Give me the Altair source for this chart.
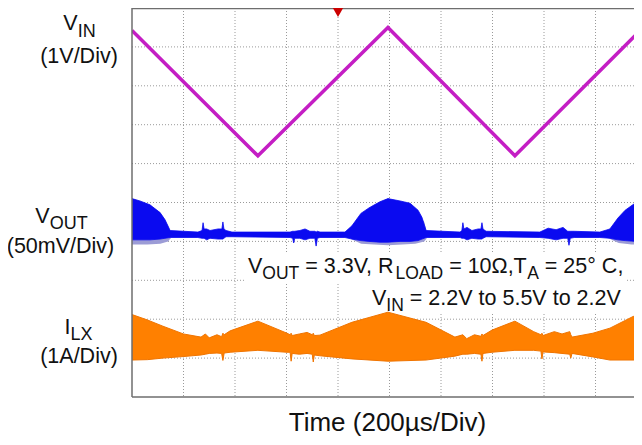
import altair as alt
import pandas as pd

# ---------------- data (time in µs, 200 µs/div) ----------------
vin_t = [0, 489, 994, 1487, 1980]
vin_v = [5.42, 2.2, 5.5, 2.2, 5.46]          # volts

vout_t = [0, 31, 70, 109, 128, 148, 256, 272, 276, 280, 290, 303, 334, 349, 353, 357, 365, 388,
          614, 624, 628, 632, 652, 672, 691, 710, 715, 720, 730,
          827, 854, 889, 920, 963, 994, 1041, 1080, 1111, 1126, 1142,
          1274, 1281, 1285, 1289, 1301, 1320, 1344, 1355, 1359, 1363, 1375,
          1584, 1616, 1647, 1674, 1692, 1697, 1702, 1717,
          1817, 1856, 1887, 1915, 1953, 1980]
vout_hi = [55, 52, 47, 37, 28, 14, 12, 14, 24, 16, 16, 14, 16, 16, 25, 16, 14, 12,
           12, 13, 13, 13, 14, 16, 13, 13, 12, 13, 12,
           12, 20, 36, 43, 51, 55, 52, 49, 40, 31, 14,
           12, 14, 24, 16, 18, 14, 16, 16, 24, 16, 13,
           12, 17, 15, 18, 13, 13, 13, 13,
           12, 16, 30, 40, 49, 54]
vout_lo = [2, 2, 2, 3, 4, 5, 5, 4, 4, 4, 2, 4, 3, 3, 3, 4, 6, 6,
           5, 4, -2, 4, 4, 2, 4, 4, -6, 4, 5,
           5, 3, 1, 0, -1, -1, 0, 0, 1, 3, 5,
           5, 4, 4, 4, 2, 4, 3, 3, 3, 4, 6,
           5, 4, 2, 4, 4, -5, 4, 5,
           5, 4, 2, 1, 0, 0]                 # mV

# lighter switching-ripple streaks under the VOUT bursts (mV)
streak_burst = ["b1"] * 5 + ["b2"] * 8 + ["b3"] * 4
streak_t = [0, 60, 110, 140, 150,
            850, 890, 940, 994, 1050, 1100, 1135, 1145,
            1850, 1890, 1940, 1980]
streak_hi = [55, 48, 37, 20, 12,
             18, 36, 47, 55, 51, 42, 25, 12,
             14, 30, 46, 54]
streak_lo = [-4, -4, -3, 0, 4,
             3, -3, -4, -5, -4, -3, 0, 4,
             4, -2, -4, -4]

ilx_t = [0, 60, 120, 200, 268, 285, 300, 330, 348, 353, 358, 381, 489,
         602, 614, 618, 622, 650, 680, 700, 704, 708, 730, 854, 994, 1142,
         1254, 1285, 1300, 1330, 1355, 1359, 1363, 1398, 1487,
         1560, 1588, 1592, 1596, 1640, 1670, 1700, 1704, 1709, 1790, 1856, 1946, 1980]
ilx_hi = [1.12, 0.98, 0.82, 0.62, 0.54, 0.62, 0.52, 0.60, 0.55, 0.64, 0.60, 0.70, 0.95,
          0.64, 0.60, 0.64, 0.58, 0.62, 0.66, 0.60, 0.64, 0.58, 0.59, 0.92, 1.18, 0.92,
          0.54, 0.60, 0.50, 0.60, 0.56, 0.62, 0.58, 0.72, 0.95,
          0.68, 0.60, 0.64, 0.58, 0.68, 0.62, 0.68, 0.60, 0.54, 0.64, 0.77, 1.07, 1.12]
ilx_lo = [-0.05, -0.04, 0.0, 0.04, 0.08, 0.10, 0.12, 0.13, 0.12, -0.06, 0.13, 0.15, 0.20,
          0.15, 0.15, -0.08, 0.12, 0.10, 0.12, 0.10, -0.10, 0.08, 0.06, -0.02, -0.08, -0.05,
          0.05, 0.10, 0.10, 0.12, 0.10, -0.08, 0.12, 0.15, 0.20,
          0.20, 0.18, -0.02, 0.16, 0.14, 0.12, 0.10, 0.00, 0.12, 0.03, -0.05, -0.05, -0.05]   # A

grid_t = [200, 400, 600, 800, 1000, 1200, 1400, 1600, 1800]
grid_div = [1, 2, 3, 4, 5, 6, 7, 8, 9]
trigger_t = [800]

# channel reference levels (divisions from bottom) and scales
VIN_REF, VIN_PER_DIV = 4.0, 1.0
VOUT_REF, VOUT_PER_DIV = 4.0, 50.0
ILX_REF, ILX_PER_DIV = 1.0, 1.0

W, H = 502, 389
T_MAX = W / 51.5 * 200
FONT = "Liberation Sans"
C_VIN, C_VOUT, C_ILX = "#c41ec4", "#0a0af0", "#ff8000"
BORDER = "#6e6e6e"
GRID = "#9a9a9a"

xs = alt.Scale(domain=[0, T_MAX], nice=False, zero=False)
ys = alt.Scale(domain=[0, 10], nice=False, zero=False)
X = alt.X("t:Q", scale=xs, axis=None)

one = pd.DataFrame({"k": [0]})

# text width helper (Arial / Liberation Sans metrics)
AW = {' ': 278, '=': 584, '.': 278, ',': 278, 'V': 667, 'R': 722, 'L': 556, 'O': 778,
      'A': 667, 'D': 722, 'T': 611, 'U': 722, 'I': 278, 'N': 722, 'C': 722, 'Ω': 768, '°': 400,
      't': 278, 'o': 556, 'X': 667}
for d in "0123456789":
    AW[d] = 556


def tw(s, size):
    return sum(AW.get(c, 556) for c in s) * size / 1000.0


def txt(s, x, y, size, align="left", color="#111111"):
    return alt.Chart(one).mark_text(text=s, font=FONT, fontSize=size, align=align,
                                    baseline="alphabetic", color=color).encode(
        x=alt.value(x), y=alt.value(y))


def rich(pieces, x0, y0, big, small, sub_dy):
    out = []
    x = x0
    for s, is_sub in pieces:
        size = small if is_sub else big
        lead = len(s) - len(s.lstrip(" "))
        x += tw(" " * lead, size)
        s = s.lstrip(" ")
        out.append(txt(s, x, y0 + (sub_dy if is_sub else 0), size))
        x += tw(s, size)
    return out


# ---------------- layers ----------------
vgrid = alt.Chart(pd.DataFrame({"t": grid_t})).mark_rule(
    color=GRID, strokeWidth=1, strokeDash=[1, 2]).encode(x=X)
hgrid = alt.Chart(pd.DataFrame({"d": grid_div})).mark_rule(
    color=GRID, strokeWidth=1, strokeDash=[1, 2]).encode(
    y=alt.Y("d:Q", scale=ys, axis=None))

vin_df = pd.DataFrame({"t": vin_t, "v": vin_v})
vout_df = pd.DataFrame({"t": vout_t, "hi": vout_hi, "lo": vout_lo})
streak_df = pd.DataFrame({"b": streak_burst, "t": streak_t, "hi": streak_hi, "lo": streak_lo})
ilx_df = pd.DataFrame({"t": ilx_t, "hi": ilx_hi, "lo": ilx_lo})

vin_layer = alt.Chart(vin_df).transform_calculate(
    d=f"{VIN_REF} + datum.v / {VIN_PER_DIV}"
).mark_line(color=C_VIN, strokeWidth=3.5, clip=True).encode(
    x=X, y=alt.Y("d:Q", scale=ys, axis=None))

streak_layer = alt.Chart(streak_df).transform_calculate(
    d1=f"{VOUT_REF} + datum.hi / {VOUT_PER_DIV}",
    d2=f"{VOUT_REF} + datum.lo / {VOUT_PER_DIV}",
).mark_area(color="#9c9cd6", clip=True).encode(
    x=X, y=alt.Y("d1:Q", scale=ys, axis=None), y2="d2:Q", detail="b:N")

vout_layer = alt.Chart(vout_df).transform_calculate(
    d1=f"{VOUT_REF} + datum.hi / {VOUT_PER_DIV}",
    d2=f"{VOUT_REF} + datum.lo / {VOUT_PER_DIV}",
).mark_area(color=C_VOUT, stroke=C_VOUT, strokeWidth=0.8, clip=True).encode(
    x=X, y=alt.Y("d1:Q", scale=ys, axis=None), y2="d2:Q")

ilx_layer = alt.Chart(ilx_df).transform_calculate(
    d1=f"{ILX_REF} + datum.hi / {ILX_PER_DIV}",
    d2=f"{ILX_REF} + datum.lo / {ILX_PER_DIV}",
).mark_area(color=C_ILX, stroke="#f07400", strokeWidth=1, clip=True).encode(
    x=X, y=alt.Y("d1:Q", scale=ys, axis=None), y2="d2:Q")

# white label boxes behind the annotation
box1 = alt.Chart(one).mark_rect(color="white").encode(
    x=alt.value(113), x2=alt.value(495), y=alt.value(245), y2=alt.value(276))
box2 = alt.Chart(one).mark_rect(color="white").encode(
    x=alt.value(236), x2=alt.value(495), y=alt.value(276), y2=alt.value(304))

# trigger marker
trig = alt.Chart(pd.DataFrame({"t": trigger_t})).mark_point(
    shape="triangle-down", filled=True, color="#cc0000", size=130, opacity=1
).encode(x=X, y=alt.value(4))

# borders (left, top, bottom)
b_left = alt.Chart(one).mark_rule(color=BORDER, strokeWidth=1.5).encode(
    x=alt.value(0), y=alt.value(0), y2=alt.value(H))
b_top = alt.Chart(one).mark_rule(color=BORDER, strokeWidth=1.5).encode(
    x=alt.value(0), x2=alt.value(W), y=alt.value(0.5))
b_bot = alt.Chart(one).mark_rule(color=BORDER, strokeWidth=1.5).encode(
    x=alt.value(0), x2=alt.value(W), y=alt.value(H))

texts = []
BIG, SMALL = 21.5, 18
# left channel labels
texts += [txt("V", -54.3, 22, BIG, "right"), txt("IN", -54.3, 28.5, SMALL, "left"),
          txt("(1V/Div)", -53, 55, BIG, "center")]
texts += [txt("V", -82.3, 215, BIG, "right"), txt("OUT", -82.3, 220.5, SMALL, "left"),
          txt("(50mV/Div)", -71.5, 245, BIG, "center")]
texts += [txt("I", -61.4, 325.5, BIG, "right"), txt("LX", -61.4, 331.5, SMALL, "left"),
          txt("(1A/Div)", -53, 355, BIG, "center")]
# annotation
texts += rich([("V", 0), ("OUT", 1), (" = 3.3V, R", 0), ("LOAD", 1), (" = 10Ω,T", 0),
               ("A", 1), (" = 25° C,", 0)], 116, 265, 21.5, 17.5, 5.5)
texts += rich([("V", 0), ("IN", 1), (" = 2.2V to 5.5V to 2.2V", 0)], 240, 297, 21.5, 17.5, 5.5)
# x title
texts += [txt("Time (200µs/Div)", 255.5, 423, 26, "center")]

chart = alt.layer(
    vgrid, hgrid, box1, box2, vin_layer, streak_layer, vout_layer, ilx_layer,
    *texts, b_left, b_top, b_bot, trig
).properties(
    width=W, height=H, autosize="none",
    padding={"left": 124, "top": 0, "right": 0, "bottom": 40},
    background="white",
).configure_view(stroke=None)

chart.save("out.html", embed_options={"renderer": "svg", "actions": False})
